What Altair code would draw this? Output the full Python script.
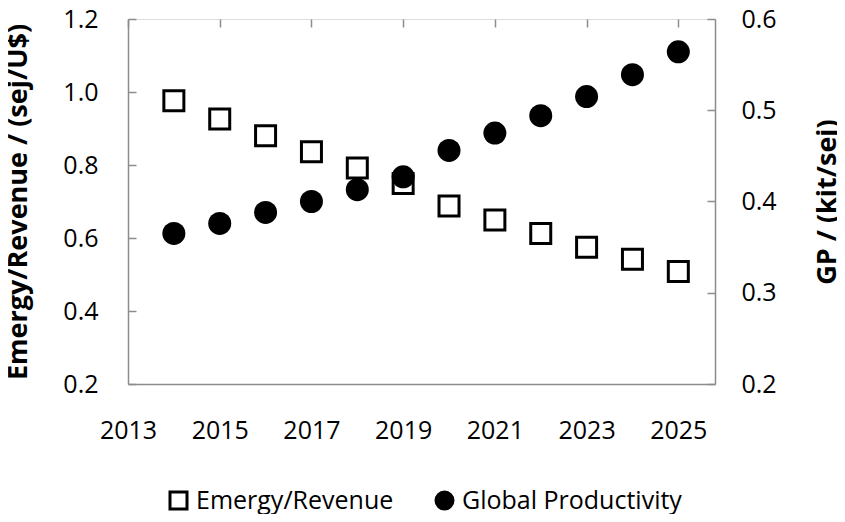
import altair as alt
import pandas as pd

years = [2014, 2015, 2016, 2017, 2018, 2019, 2020, 2021, 2022, 2023, 2024, 2025]
emergy_revenue = [0.976, 0.926, 0.880, 0.836, 0.792, 0.749, 0.688, 0.649, 0.612, 0.575, 0.542, 0.508]
global_productivity = [0.365, 0.376, 0.388, 0.400, 0.413, 0.427, 0.456, 0.475, 0.494, 0.515, 0.539, 0.564]
series_names = ["Emergy/Revenue", "Global Productivity"]
x_ticks = [2013, 2015, 2017, 2019, 2021, 2023, 2025]
left_ticks = [0.2, 0.4, 0.6, 0.8, 1.0, 1.2]
right_ticks = [0.2, 0.3, 0.4, 0.5, 0.6]

df_er = pd.DataFrame({"year": years, "value": emergy_revenue, "series": series_names[0]})
df_gp = pd.DataFrame({"year": years, "value": global_productivity, "series": series_names[1]})

FONT = "Open Sans"
GRAY = "#8c8c8c"
W, H = 587, 365
LBL = 25
TTL = 27

x_enc = alt.X(
    "year:Q",
    scale=alt.Scale(domain=[2013, 2025.8], nice=False, zero=False),
    axis=alt.Axis(
        values=x_ticks, format="d", title=None, labelFontSize=LBL, labelFont=FONT,
        labelColor="black", labelPadding=34, tickSize=0, domainColor=GRAY, domainWidth=1.5,
        grid=True, gridDash=[8, 2000], gridColor=GRAY, gridWidth=1.5, labelFlush=False,
    ),
)

shape_enc = alt.Shape(
    "series:N",
    scale=alt.Scale(domain=series_names, range=["square", "circle"]),
    legend=alt.Legend(
        title=None, orient="none", direction="horizontal", legendX=38, legendY=469,
        padding=0, labelFont=FONT, labelFontSize=LBL, labelColor="black", symbolSize=289,
        symbolStrokeColor="black", symbolStrokeWidth=3, columnPadding=36, labelOffset=5,
        symbolOpacity=1, labelLimit=0,
    ),
)
fill_enc = alt.Fill(
    "series:N",
    scale=alt.Scale(domain=series_names, range=["white", "black"]),
    legend=None,
)
stroke_enc = alt.Stroke(
    "series:N",
    scale=alt.Scale(domain=series_names, range=["black", "black"]),
    legend=None,
)

er_layer = alt.Chart(df_er).mark_point(
    size=400, strokeWidth=3, opacity=1, filled=True
).encode(
    x=x_enc,
    y=alt.Y(
        "value:Q",
        scale=alt.Scale(domain=[0.2, 1.2], nice=False, zero=False),
        axis=alt.Axis(
            orient="left", values=left_ticks, format=".1f", title="Emergy/Revenue / (sej/U$)",
            labelFontSize=LBL, labelFont=FONT, labelColor="black", labelPadding=30, tickSize=0,
            domainColor=GRAY, domainWidth=1.5, grid=True, gridDash=[8, 2000], gridColor=GRAY,
            gridWidth=1.5, titleFont=FONT, titleFontSize=TTL, titleFontWeight="bold",
            titleColor="black", titleX=-110, titleY=H / 2, titleAngle=270,
            titleAlign="center", titleBaseline="middle", labelFlush=False,
        ),
    ),
    shape=shape_enc,
    fill=fill_enc,
    stroke=stroke_enc,
)

gp_layer = alt.Chart(df_gp).mark_point(
    size=529, strokeWidth=0, opacity=1, filled=True
).encode(
    x=x_enc,
    y=alt.Y(
        "value:Q",
        scale=alt.Scale(domain=[0.2, 0.6], nice=False, zero=False),
        axis=alt.Axis(
            orient="right", values=right_ticks, format=".1f", title="GP / (kit/sej)",
            labelFontSize=LBL, labelFont=FONT, labelColor="black", labelPadding=26, tickSize=0,
            domainColor=GRAY, domainWidth=1.5, grid=True, gridDash=[8, 2000], gridColor=GRAY,
            gridWidth=1.5, titleFont=FONT, titleFontSize=TTL, titleFontWeight="bold",
            titleColor="black", titleX=112, titleY=H / 2, titleAngle=270,
            titleAlign="center", titleBaseline="middle", labelFlush=False,
        ),
    ),
    shape=shape_enc,
    fill=fill_enc,
    stroke=stroke_enc,
)

chart = (
    alt.layer(er_layer, gp_layer)
    .resolve_scale(y="independent")
    .properties(
        width=W, height=H,
        autosize=alt.AutoSizeParams(type="none"),
        padding={"left": 120, "top": 11, "right": 122, "bottom": 130},
    )
    .configure_view(stroke="#555555", strokeWidth=1.5)
    .configure(background="white")
)

chart.save("out.html", embed_options={"renderer": "svg", "actions": False})
